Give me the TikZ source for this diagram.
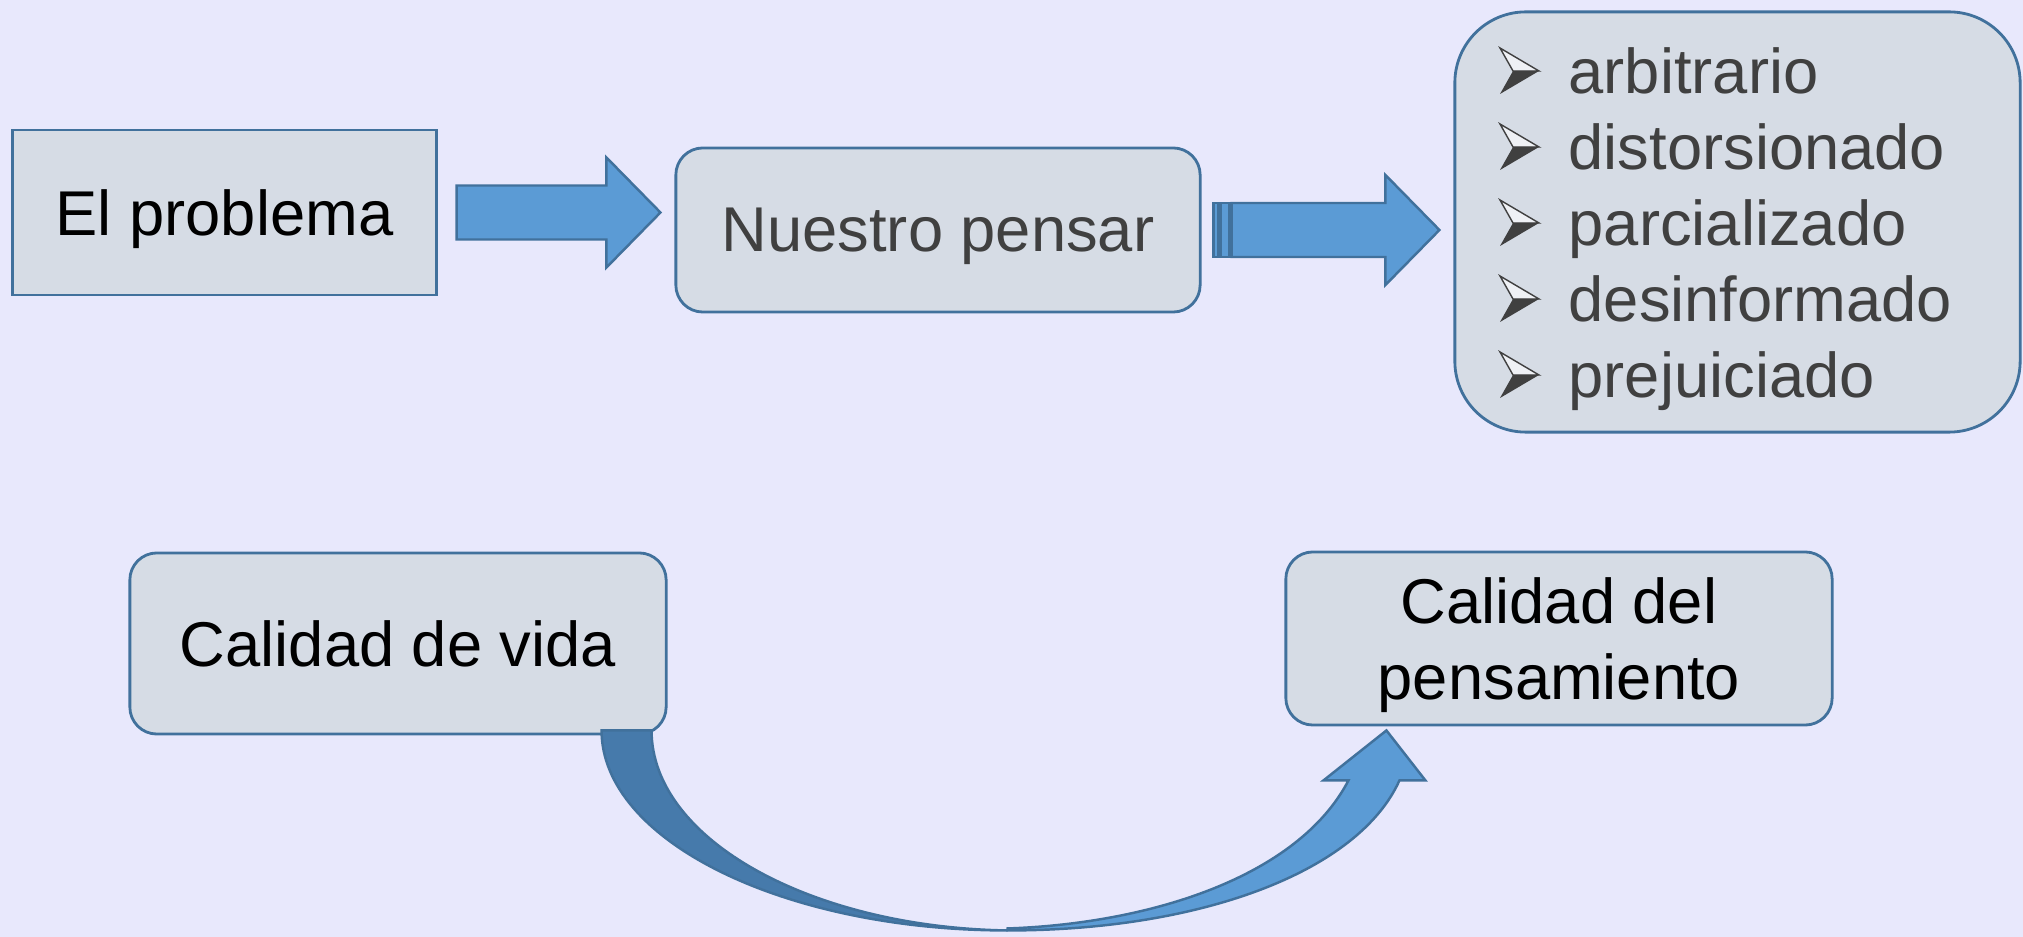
\documentclass[tikz,border=0pt]{standalone}
\usepackage{xcolor}
\usepackage{fontspec}
\setmainfont{Liberation Sans}
\usepackage{tikz}
\usetikzlibrary{shapes, arrows, positioning, fit, calc}

\definecolor{bgcolor}{HTML}{E8E8FC}
\definecolor{boxfill}{HTML}{D6DCE5}
\definecolor{boxline}{HTML}{41719C}
\definecolor{arrowfill}{HTML}{5B9BD5}
\definecolor{darkband}{HTML}{467AAB}
\definecolor{textgray}{HTML}{404040}

% block arrow between two coordinates
\newcommand{\blockarrow}[2]{\draw[blockarrow] ($(#1)+(0,-27)$) -- ($(#2)+(-54,-27)$) -- ($(#2)+(-54,-55)$) -- (#2) -- ($(#2)+(-54,55)$) -- ($(#2)+(-54,27)$) -- ($(#1)+(0,27)$) -- cycle;}

\begin{document}
\begin{tikzpicture}[
    x=0.01cm, y=-0.01cm,
    box/.style={draw=boxline, fill=boxfill, rectangle, line width=0.8pt, inner sep=0pt, text depth=0pt, align=center, font=\fontsize{18}{21.6}\selectfont},
    roundbox/.style={box, rounded corners=0.27cm},
    blockarrow/.style={draw=boxline, fill=arrowfill, line width=0.7pt},
    itemtext/.style={anchor=base west, inner sep=0pt, text=textgray, font=\fontsize{18}{21.6}\selectfont},
    bulletline/.style={draw=textgray, fill=white!60!boxfill, line width=0.4pt, line join=miter}
]
\fill[bgcolor] (0,0) rectangle (2023,937);
\useasboundingbox (0,0) rectangle (2023,937);

\node[box, minimum width=4.23cm, minimum height=1.65cm] (problema) at (224.5,212.5) {El problema};
\node[roundbox, text=textgray, minimum width=5.24cm, minimum height=1.64cm] (pensar) at (938,230) {Nuestro pensar};
\node[roundbox, rounded corners=0.71cm, minimum width=5.65cm, minimum height=4.2cm] (lista) at (1737.5,222) {};
\node[roundbox, minimum width=5.36cm, minimum height=1.81cm] (vida) at (398,643.5) {Calidad de vida};
\node[roundbox, minimum width=5.46cm, minimum height=1.73cm] (pensamiento) at (1559,638.5) {Calidad del\\pensamiento};

% list items
\foreach \w [count=\i] in {arbitrario,distorsionado,parcializado,desinformado,prejuiciado}
{
  \node[itemtext] (item\i) at (1568,{94+76*(\i-1)}) {\w};
  \draw[bulletline] ($(item\i.base west)+(-68,-46)$) -- ($(item\i.base west)+(-29,-23)$) -- ($(item\i.base west)+(-55,-23)$) -- cycle;
  \fill[textgray] ($(item\i.base west)+(-55,-23)$) -- ($(item\i.base west)+(-29,-23)$) -- ($(item\i.base west)+(-68,0)$) -- cycle;
}

% straight arrows
\coordinate (a1s) at ($(problema.east)+(19,0)$);
\coordinate (a1e) at ($(pensar.west |- problema.east)+(-14,0)$);
\coordinate (a2s) at ($(pensar.east)+(30,0)$);
\coordinate (a2e) at ($(lista.west |- pensar.east)+(-14,0)$);
\blockarrow{a1s}{a1e}
\blockarrow{a2s}{a2e}
\draw[blockarrow] ($(a2s)+(-18,-27)$) rectangle ($(a2s)+(-13,27)$);
\draw[blockarrow] ($(a2s)+(-11,-27)$) rectangle ($(a2s)+(-2,27)$);

% curved arrow
\coordinate (ctail) at ($(vida.south east)+(-66,-5)$);
\coordinate (ctip) at ($(pensamiento.south west)+(102,4)$);
\filldraw[draw=boxline, fill=darkband, line width=0.7pt] (ctail) .. controls +(0,110) and +(-224,0) .. ($(ctail)+(406,200)$) .. controls +(-196,-3) and +(0,109) .. ($(ctail)+(50,0)$) -- cycle;
\filldraw[blockarrow] ($(ctail)+(406,200)$) .. controls +(194,0) and +(-41,91) .. ($(ctip)+(13,50)$) -- ($(ctip)+(39,50)$) -- (ctip) -- ($(ctip)+(-63,50)$) -- ($(ctip)+(-38,50)$) .. controls +(-50,96) and +(144,-5) .. ($(ctail)+(406,198)$) -- cycle;
\end{tikzpicture}
\end{document}
